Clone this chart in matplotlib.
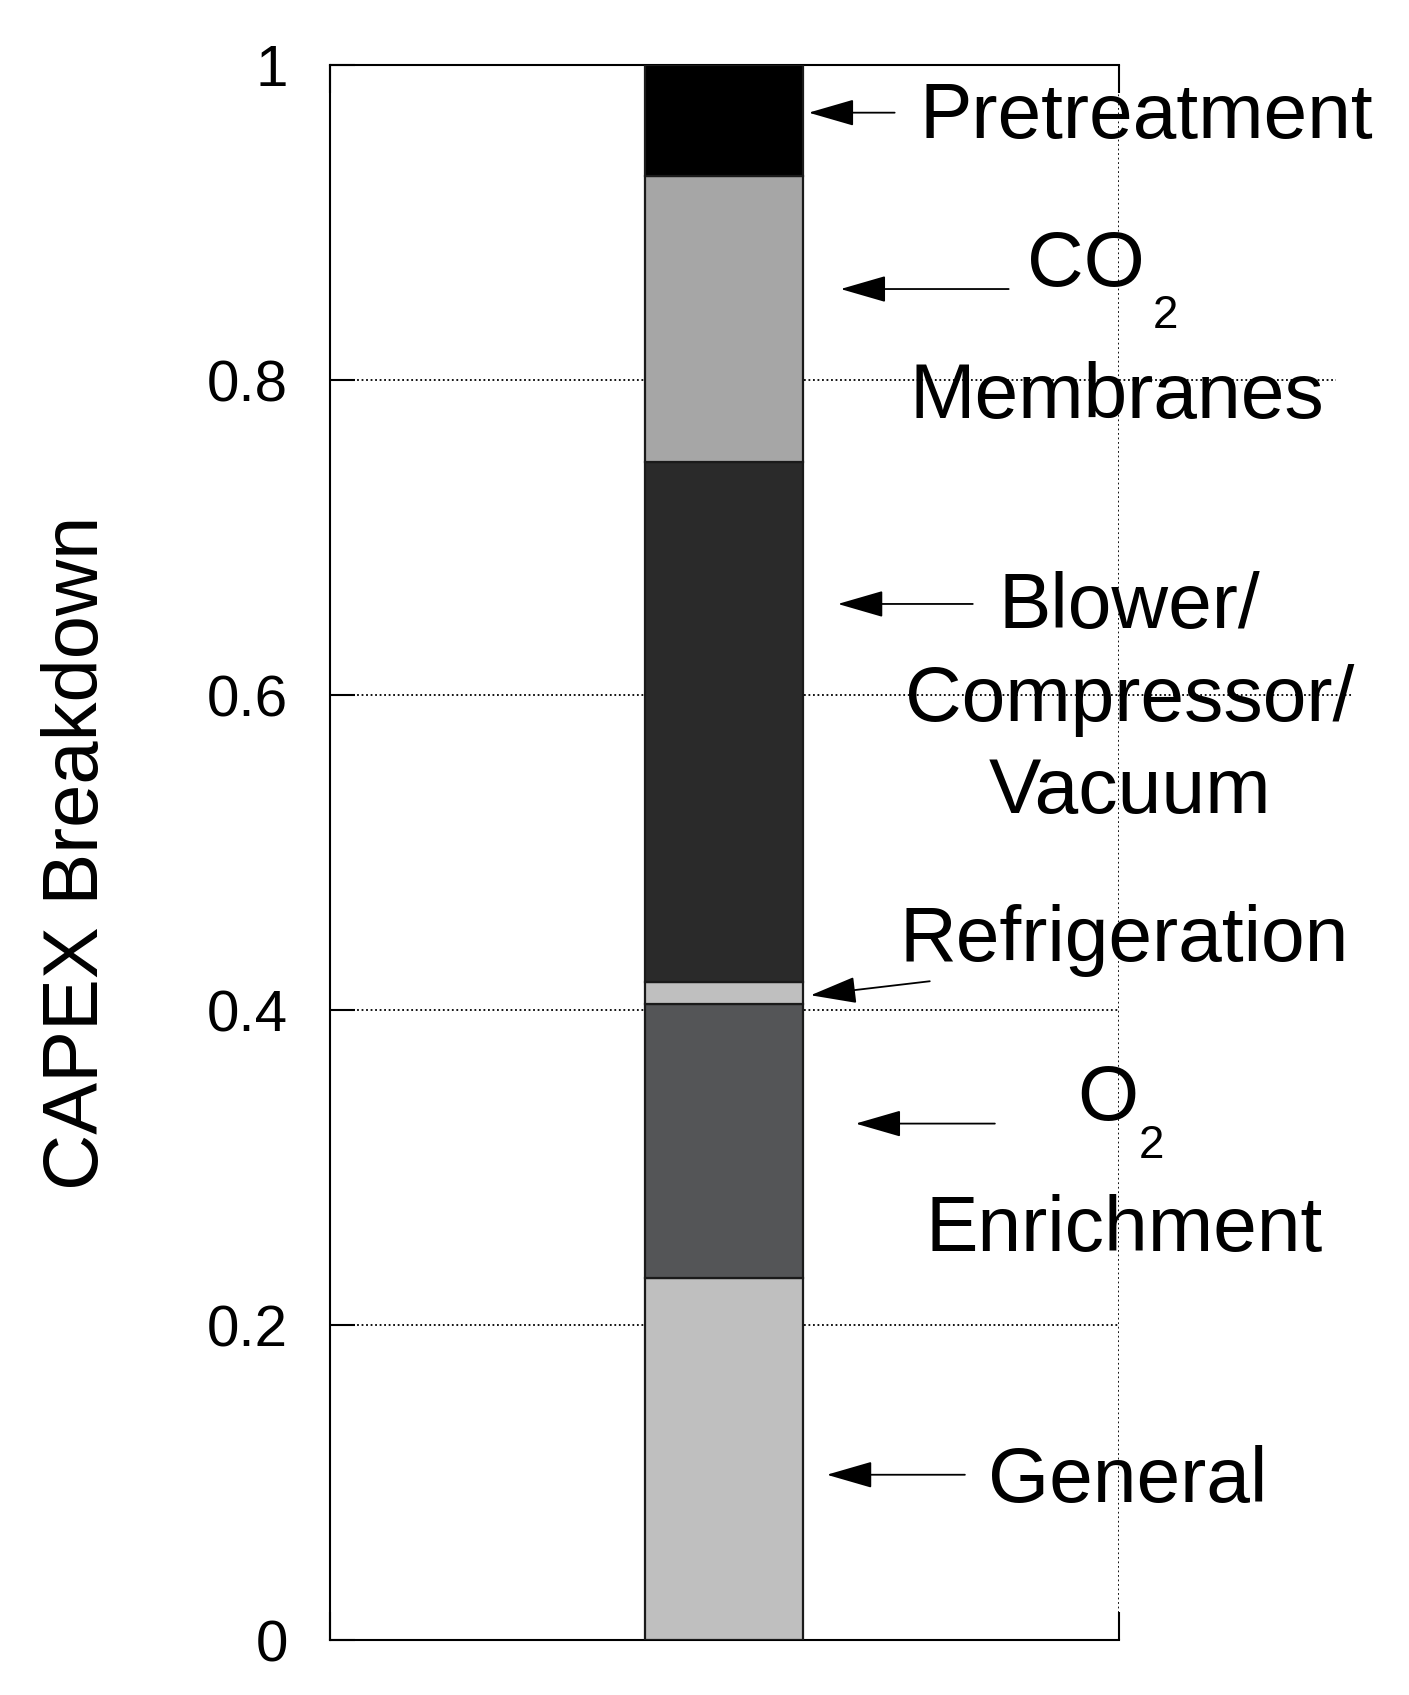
#!/usr/bin/env python3

import matplotlib.pyplot as plt

plt.rcParams["font.family"] = ["Liberation Sans", "DejaVu Sans"]

# stacked CAPEX fractions, bottom to top
categories = ["General", "O2 Enrichment", "Refrigeration",
              "Blower/Compressor/Vacuum", "CO2 Membranes", "Pretreatment"]
fractions = [0.230, 0.174, 0.014, 0.330, 0.182, 0.070]
colors = ["#bfbfbf", "#545557", "#bfbfbf", "#2a2a2a", "#a6a6a6", "#000000"]

yticks = [0, 0.2, 0.4, 0.6, 0.8, 1]
yticklabels = ["0", "0.2", "0.4", "0.6", "0.8", "1"]

fig = plt.figure(figsize=(14.09, 16.95), dpi=100)
ax = fig.add_axes([0.234, 0.0324, 0.560, 0.929])

bottom = 0
for frac, col in zip(fractions, colors):
    ax.bar(1, frac, width=0.4, bottom=bottom, color=col,
           edgecolor="#1a1a1a", linewidth=1.6, zorder=3)
    bottom += frac

ax.set_xlim(0, 2)
ax.set_ylim(0, 1)
ax.set_yticks(yticks)
ax.set_yticklabels(yticklabels)
ax.set_xticks([0, 2])
ax.set_xticklabels([])

ax.tick_params(axis="y", direction="in", length=18, width=1.5,
               labelsize=42, pad=30, right=False)
ax.tick_params(axis="x", direction="in", length=20, width=1.5,
               top=True, bottom=True)
ax.spines["right"].set_visible(False)
for s in ["left", "top", "bottom"]:
    ax.spines[s].set_linewidth(1.5)

ax.grid(True, linestyle=(0, (1, 1.5)), color="black", linewidth=1.3)
ax.set_axisbelow(True)

# the 0.6 and 0.8 gridlines run on under the labels in the original
ax.axhline(0.8, xmin=1.0, xmax=1.275, linestyle=(0, (1, 1.5)),
           color="black", linewidth=1.3, clip_on=False)
ax.axhline(0.6, xmin=1.0, xmax=1.296, linestyle=(0, (1, 1.5)),
           color="black", linewidth=1.3, clip_on=False)

ax.set_ylabel("CAPEX Breakdown", fontsize=56)
ax.yaxis.set_label_coords(-0.274, 0.5)

# labels and arrows (tail, tip)
big = 56.5
small = 33
txt = dict(ha="center", va="center", fontsize=big, clip_on=False)
ax.text(2.071, 0.967, "Pretreatment", **txt)
ax.text(1.916, 0.873, "CO", **txt)
ax.text(2.119, 0.841, "2", ha="center", va="center", fontsize=small)
ax.text(1.996, 0.789, "Membranes", **txt)
ax.text(2.028, 0.597, "Blower/\nCompressor/\nVacuum", linespacing=1.34,
        multialignment="center", **txt)
ax.text(2.014, 0.444, "Refrigeration", **txt)
ax.text(1.972, 0.343, "O", **txt)
ax.text(2.084, 0.3135, "2", ha="center", va="center", fontsize=small)
ax.text(2.014, 0.260, "Enrichment", **txt)
ax.text(2.023, 0.1005, "General", **txt)

arrows = [
    ((1.432, 0.970), (1.214, 0.970)),
    ((1.721, 0.858), (1.295, 0.858)),
    ((1.630, 0.658), (1.288, 0.658)),
    ((1.521, 0.4184), (1.219, 0.4095)),
    ((1.686, 0.328), (1.333, 0.328)),
    ((1.610, 0.105), (1.260, 0.105)),
]
for tail, tip in arrows:
    ax.annotate("", xy=tip, xytext=tail,
                arrowprops=dict(arrowstyle="-|>,head_length=1.45,head_width=0.42",
                                mutation_scale=20, color="black", lw=1.3,
                                shrinkA=0, shrinkB=0))

plt.savefig("out.png", dpi=100)
